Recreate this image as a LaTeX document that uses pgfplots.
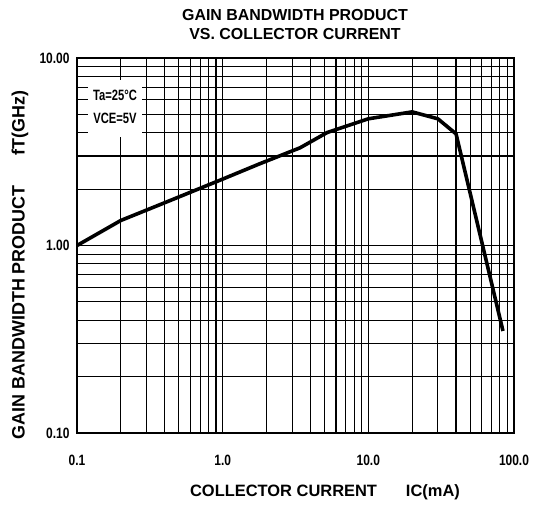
\documentclass[border=0pt]{standalone}
\usepackage{pgfplots}
\pgfplotsset{compat=1.18}
\usepackage{fontspec}
\setmainfont{Liberation Sans}
\newcommand{\cnd}[1]{\scalebox{0.8}[1]{#1}}
\begin{document}
\begin{tikzpicture}
\path[use as bounding box] (-77bp,-73bp) rectangle (457bp,433bp);
\begin{axis}[
  at={(0bp,0bp)}, anchor=south west,
  scale only axis, width=437bp, height=375bp,
  xmode=log, ymode=log,
  xmin=0.1, xmax=100, ymin=0.1, ymax=10,
  xtick={0.1,1,10,100}, xticklabels={\cnd{0.1},\cnd{1.0},\cnd{10.0},\cnd{100.0}},
  ytick={0.1,1,10}, yticklabels={\cnd{0.10},\cnd{1.00},\cnd{10.00}},
  minor xtick={0.2,0.3,0.4,0.5,0.6,0.7,0.8,0.9,2,3,4,5,6,7,8,9,20,30,40,50,60,70,80,90},
  minor ytick={0.2,0.3,0.4,0.5,0.6,0.7,0.8,0.9,2,3,4,5,6,7,8,9},
  grid=both,
  major grid style={black, line width=1.1bp},
  minor grid style={black, line width=1.1bp},
  axis line style={black, line width=1.1bp},
  major tick length=0pt, minor tick length=0pt,
  tick label style={font=\bfseries\fontsize{15}{16}\selectfont},
  xticklabel style={yshift=-19bp},
  yticklabel style={xshift=-4bp},
  /pgf/number format/assume math mode=true,
]
\addplot[black, line width=3.6bp, line join=round] coordinates {
(0.1,1.0) (0.2,1.36) (0.43,1.73) (1.0,2.26) (1.8,2.73) (3.4,3.32) (5.2,4.0) (10,4.74) (20,5.16) (30,4.74) (40,3.94) (84,0.35)
};
\end{axis}
\fill[white] (11bp,296bp) rectangle (65bp,353bp);
\node[inner sep=0bp, font=\bfseries\fontsize{15}{16}\selectfont] at (38bp,338bp) {\scalebox{0.75}[1]{Ta=25°C}};
\node[inner sep=0bp, font=\bfseries\fontsize{15}{16}\selectfont] at (38bp,315bp) {\scalebox{0.75}[1]{VCE=5V}};
\node[font=\bfseries\fontsize{16}{17}\selectfont] at (218bp,418bp) {GAIN BANDWIDTH PRODUCT};
\node[font=\bfseries\fontsize{16}{17}\selectfont] at (218bp,399bp) {VS. COLLECTOR CURRENT};
\node[font=\bfseries\fontsize{16.5}{17}\selectfont] at (248bp,-59bp) {COLLECTOR CURRENT\hspace{29bp}IC(mA)};
\node[rotate=90, font=\bfseries\fontsize{18}{19}\selectfont] at (-57bp,168bp) {GAIN BANDWIDTH PRODUCT\hspace{30bp}fT(GHz)};
\end{tikzpicture}
\end{document}
